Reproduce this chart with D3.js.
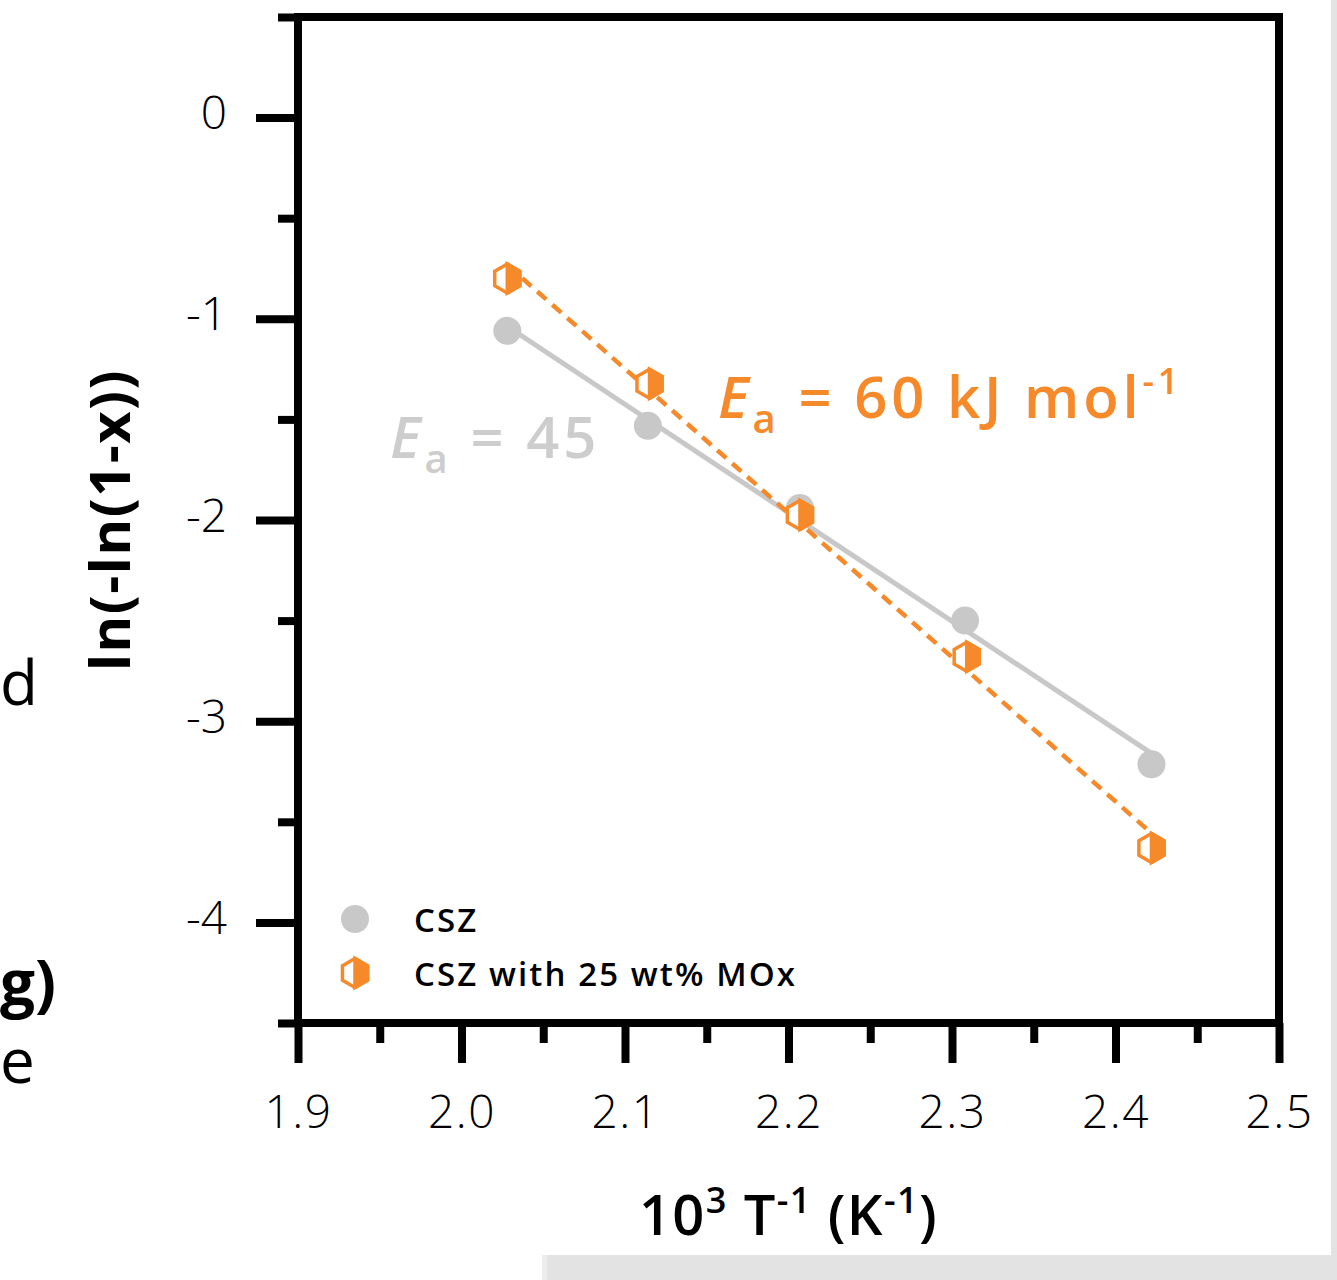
<!DOCTYPE html>
<html>
<head>
<meta charset="utf-8">
<script src="https://cdn.jsdelivr.net/npm/d3@7"></script>
<style>
  html, body { margin: 0; padding: 0; background: #fff; }
  svg { display: block; }
  text { font-family: "Open Sans", Lato, "DejaVu Sans", sans-serif; }
</style>
</head>
<body>
<svg id="chart" width="1337" height="1280"></svg>
<script>
// 10^3/T values (K^-1) and ln(-ln(1-x)) for each sample
const invT = [2.028, 2.114, 2.207, 2.308, 2.422];
const cszY = [-1.06, -1.532, -1.94, -2.50, -3.214];
const moxInvT = [2.028, 2.115, 2.207, 2.309, 2.422];
const moxY = [-0.80, -1.323, -1.975, -2.68, -3.63];

const xTicks = [1.9, 2.0, 2.1, 2.2, 2.3, 2.4, 2.5];
const xMinor = [1.95, 2.05, 2.15, 2.25, 2.35, 2.45];
const yTicks = [0, -1, -2, -3, -4];
const yMinor = [0.5, -0.5, -1.5, -2.5, -3.5, -4.5];

const seriesNames = ["CSZ", "CSZ with 25 wt% MOx"];
const eaLabels = ["45", "60"];

const GRAY = "#c8c8c8";
const GRAY_TEXT = "#cdcdcd";
const ORANGE = "#f68a2b";
const TICK_FONT = "'Open Sans', Lato, sans-serif";

const svg = d3.select("#chart");
const L = 298, R = 1279, T = 17, B = 1023;

const x = d3.scaleLinear().domain([1.9, 2.5]).range([L, R]);
const y = d3.scaleLinear().domain([-4.5, 0.5]).range([B, T]);

// page edges of neighbouring content
svg.append("rect").attr("x", 1331).attr("y", 0).attr("width", 6).attr("height", 1280).attr("fill", "#e3e3e3");
svg.append("rect").attr("x", 542).attr("y", 1255).attr("width", 795).attr("height", 25).attr("fill", "#e3e3e3");
svg.append("rect").attr("x", 542).attr("y", 1255).attr("width", 5).attr("height", 25).attr("fill", "#ededed");

// text fragments of the neighbouring panel at the left edge
const sideFont = "'Liberation Sans', Arial, sans-serif";
svg.append("text").attr("x", 0).attr("y", 705).attr("font-family", sideFont)
  .attr("font-size", 62).attr("fill", "#000").text("d");
svg.append("text").attr("x", 0).attr("y", 1005).attr("font-family", sideFont)
  .attr("font-weight", "bold").attr("font-size", 62).attr("fill", "#000").text("g)");
svg.append("text").attr("x", 0).attr("y", 1083).attr("font-family", sideFont)
  .attr("font-size", 62).attr("fill", "#000").text("e");

// axes
const axisStyle = g => {
  g.select(".domain").remove();
  g.selectAll(".tick line").attr("stroke", "#000").attr("stroke-width", 8);
};

const xAxis = svg.append("g").attr("transform", `translate(0,${B})`)
  .call(d3.axisBottom(x).tickValues(xTicks).tickSize(40).tickFormat(d3.format(".1f")))
  .call(axisStyle);
xAxis.selectAll(".tick text")
  .attr("y", 105).attr("dy", 0)
  .attr("font-size", 46).attr("font-weight", 300).attr("fill", "#000")
  .attr("font-family", TICK_FONT).attr("letter-spacing", 1.5);

svg.append("g").attr("transform", `translate(0,${B})`)
  .call(d3.axisBottom(x).tickValues(xMinor).tickSize(20).tickFormat(""))
  .call(axisStyle);

const yAxis = svg.append("g").attr("transform", `translate(${L},0)`)
  .call(d3.axisLeft(y).tickValues(yTicks).tickSize(42).tickFormat(d3.format("d")))
  .call(axisStyle);
yAxis.selectAll(".tick text")
  .attr("x", -71).attr("dy", 11)
  .attr("font-size", 46).attr("font-weight", 300).attr("fill", "#000")
  .attr("font-family", TICK_FONT)
  .text(d => String(d).replace("−", "-"));

svg.append("g").attr("transform", `translate(${L},0)`)
  .call(d3.axisLeft(y).tickValues(yMinor).tickSize(20).tickFormat(""))
  .call(axisStyle);

// plot frame
svg.append("rect").attr("x", L).attr("y", T).attr("width", R - L).attr("height", B - T)
  .attr("fill", "none").attr("stroke", "#000").attr("stroke-width", 8);

// least-squares fit for each series
function fit(xs, ys) {
  const mx = d3.mean(xs), my = d3.mean(ys);
  let sxy = 0, sxx = 0;
  xs.forEach((v, i) => { sxy += (v - mx) * (ys[i] - my); sxx += (v - mx) ** 2; });
  const m = sxy / sxx, b = my - m * mx;
  const x0 = d3.min(xs), x1 = d3.max(xs);
  return [[x0, m * x0 + b], [x1, m * x1 + b]];
}
const line = d3.line().x(d => x(d[0])).y(d => y(d[1]));

svg.append("path").attr("d", line(fit(invT, cszY)))
  .attr("fill", "none").attr("stroke", GRAY).attr("stroke-width", 5);
svg.append("path").attr("d", line(fit(moxInvT, moxY)))
  .attr("fill", "none").attr("stroke", ORANGE).attr("stroke-width", 4.5)
  .attr("stroke-dasharray", "12,8");

// markers
const cszPts = invT.map((v, i) => [v, cszY[i]]);
const moxPts = moxInvT.map((v, i) => [v, moxY[i]]);

svg.append("g").selectAll("circle").data(cszPts).join("circle")
  .attr("cx", d => x(d[0])).attr("cy", d => y(d[1])).attr("r", 14).attr("fill", GRAY);

// half-filled hexagon: outlined left half, solid right half
function hexagon(g, cx, cy) {
  const r = 14.5, w = r * Math.sqrt(3) / 2;
  const pts = [[0, -r], [w, -r / 2], [w, r / 2], [0, r], [-w, r / 2], [-w, -r / 2]];
  g.append("path")
    .attr("d", "M" + pts.map(p => [cx + p[0], cy + p[1]].join(",")).join("L") + "Z")
    .attr("fill", "#fff").attr("stroke", ORANGE).attr("stroke-width", 3.5).attr("stroke-linejoin", "miter");
  const half = [[0, -r], [w, -r / 2], [w, r / 2], [0, r]];
  g.append("path")
    .attr("d", "M" + half.map(p => [cx + p[0], cy + p[1]].join(",")).join("L") + "Z")
    .attr("fill", ORANGE).attr("stroke", ORANGE).attr("stroke-width", 3.5);
}
const moxG = svg.append("g");
moxPts.forEach(d => hexagon(moxG, x(d[0]), y(d[1])));

// activation energy labels
function eaLabel(px, py, color, value, unit) {
  const t = svg.append("text").attr("x", px).attr("y", py)
    .attr("font-size", 58).attr("font-weight", 600).attr("fill", color)
    .attr("letter-spacing", 3.8);
  t.append("tspan").attr("font-style", "italic").text("E");
  t.append("tspan").attr("font-size", 40).attr("dy", 15).text("a");
  t.append("tspan").attr("dy", -15).text(" = " + value + (unit ? " kJ mol" : ""));
  if (unit) t.append("tspan").attr("font-size", 36).attr("dy", -24).text("-1");
}
eaLabel(390, 458, GRAY_TEXT, eaLabels[0], false);
eaLabel(718, 418, ORANGE, eaLabels[1], true);

// legend
const leg = svg.append("g");
leg.append("circle").attr("cx", 355).attr("cy", 919).attr("r", 14).attr("fill", GRAY);
hexagon(leg, 355, 973);
leg.selectAll("text").data(seriesNames).join("text")
  .attr("x", 414).attr("y", (d, i) => 932 + i * 54)
  .attr("font-size", 33).attr("font-weight", 600).attr("fill", "#000")
  .attr("letter-spacing", 2.1).text(d => d);

// axis titles
const xt = svg.append("text").attr("x", (L + R) / 2).attr("y", 1235).attr("text-anchor", "middle")
  .attr("font-size", 56).attr("font-weight", 600).attr("fill", "#000").attr("letter-spacing", 1.4);
xt.append("tspan").text("10");
xt.append("tspan").attr("font-size", 36).attr("dy", -22).text("3");
xt.append("tspan").attr("dy", 22).text(" T");
xt.append("tspan").attr("font-size", 36).attr("dy", -22).text("-1");
xt.append("tspan").attr("dy", 22).text(" (K");
xt.append("tspan").attr("font-size", 36).attr("dy", -22).text("-1");
xt.append("tspan").attr("dy", 22).text(")");

svg.append("text")
  .attr("transform", `translate(130,${(T + B) / 2}) rotate(-90)`)
  .attr("text-anchor", "middle").attr("font-size", 56).attr("font-weight", 700).attr("fill", "#000")
  .attr("letter-spacing", 1.5)
  .text("ln(-ln(1-x))");
</script>
</body>
</html>
